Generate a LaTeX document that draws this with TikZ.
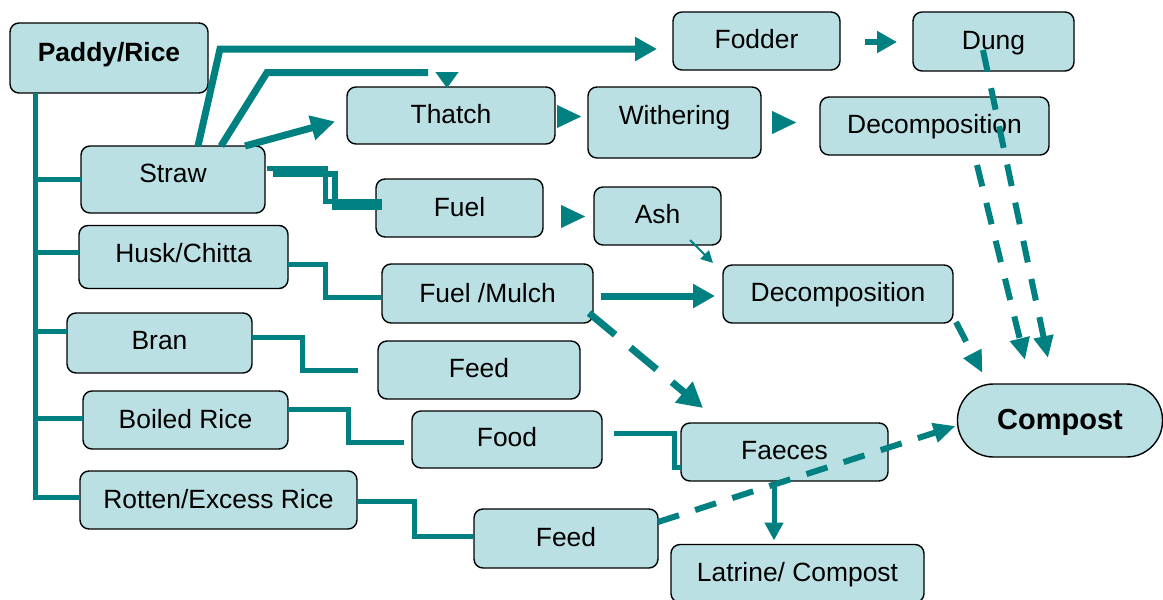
\documentclass[tikz,border=0pt]{standalone}
\usepackage{fontspec}
\setmainfont{Liberation Sans}
\usetikzlibrary{arrows.meta}
\definecolor{flowteal}{RGB}{0,128,128}
\definecolor{boxfill}{RGB}{186,224,227}

\begin{document}
\begin{tikzpicture}[x=1pt,y=-1pt,
  box/.style={draw=black, line width=1.4pt, fill=boxfill, rounded corners=9pt,
    inner sep=0pt, outer sep=0pt, text height=19pt, text depth=0pt,
    font=\fontsize{26.4}{30}\selectfont},
  boldbox/.style={box, font=\fontsize{26.4}{30}\selectfont\bfseries},
  link/.style={draw=flowteal, line width=5pt},
  heavy/.style={draw=flowteal, line width=7pt},
  dashlink/.style={draw=flowteal, line width=6pt, dash pattern=on 22pt off 17pt,
    -{Triangle[length=22pt,width=19pt]}},
  headonly/.style={draw=flowteal, line width=0.1pt, -{Triangle[length=#1,width=23pt]}}
]
\useasboundingbox (0,0) rectangle (1163,600);

% ---- boxes ----
\node[boldbox, minimum width=198pt, minimum height=70pt, text depth=13pt] (paddy) at (109,58) {Paddy/Rice};
\node[box, minimum width=184pt, minimum height=67pt, text depth=14pt] (straw) at (173,179.5) {Straw};
\node[box, minimum width=209pt, minimum height=63pt, text depth=9pt] (husk) at (183.5,257) {Husk/Chitta};
\node[box, minimum width=185pt, minimum height=60pt, text depth=6pt] (bran) at (159.5,343) {Bran};
\node[box, minimum width=205pt, minimum height=58pt, text depth=3pt] (boiled) at (185.5,420) {Boiled Rice};
\node[box, minimum width=277pt, minimum height=58pt, text depth=3pt] (rotten) at (218.5,500) {Rotten/Excess Rice};

\node[box, minimum width=167pt, minimum height=58pt, text depth=5pt] (fodder) at (756.5,41) {Fodder};
\node[box, minimum width=161pt, minimum height=59pt, text depth=4pt] (dung) at (993.5,41.5) {Dung};
\node[box, minimum width=208pt, minimum height=57pt, text depth=4pt] (thatch) at (451,115.5) {Thatch};
\node[box, minimum width=173pt, minimum height=71pt, text depth=16pt] (withering) at (674.5,122.5) {Withering};
\node[box, minimum width=229pt, minimum height=58pt, text depth=4pt] (decompA) at (934.5,126) {Decomposition};
\node[box, minimum width=167pt, minimum height=58pt, text depth=3pt] (fuel) at (459.5,208) {Fuel};
\node[box, minimum width=127pt, minimum height=58pt, text depth=4pt] (ash) at (657.5,216) {Ash};
\node[box, minimum width=211pt, minimum height=59pt, text depth=2pt] (mulch) at (487.5,293.5) {Fuel /Mulch};
\node[box, minimum width=230pt, minimum height=58pt, text depth=4pt] (decompB) at (838,294) {Decomposition};
\node[box, minimum width=202pt, minimum height=58pt, text depth=4pt] (feedA) at (479,370) {Feed};
\node[box, minimum width=190pt, minimum height=57pt, text depth=5pt] (food) at (507,439.5) {Food};
\node[box, minimum width=207pt, minimum height=58pt, text depth=5pt] (faeces) at (784.5,452) {Faeces};
\node[box, minimum width=184pt, minimum height=59pt, text depth=3pt] (feedB) at (566,538.5) {Feed};
\node[box, minimum width=253pt, minimum height=58pt, text depth=4pt] (latrine) at (797.5,573.5) {Latrine/ Compost};
\node[boldbox, rounded corners=36pt, minimum width=205pt, minimum height=73pt,
      text height=21pt, text depth=3pt, font=\fontsize{29}{33}\selectfont\bfseries] (compost) at (1060,420.5) {Compost};

% ---- trunk and branches from Paddy/Rice ----
\coordinate (trunk) at ([xshift=25pt]paddy.south west);
\draw[link] (trunk) |- ([yshift=3pt]rotten.west);
\draw[link] (trunk |- straw.west) -- (straw.west);
\draw[link] ([yshift=5pt]trunk |- husk.west) -- ([yshift=5pt]husk.west);
\draw[link] ([yshift=12pt]trunk |- bran.west) -- ([yshift=12pt]bran.west);
\draw[link] ([yshift=2pt]trunk |- boiled.west) -- ([yshift=2pt]boiled.west);

% ---- elbow links ----
\draw[link] ([yshift=-7pt]husk.east) -| (325,297) -- ([yshift=-3.5pt]mulch.west);
\draw[link] ([yshift=6pt]bran.east) -| (302,370) -- ([xshift=-20pt]feedA.west);
\draw[link] ([yshift=11pt]boiled.east) -| (348,442) -- ([xshift=-8pt,yshift=-2.5pt]food.west);
\draw[link] ([yshift=-1pt]rotten.east) -| (414,536) -- ([yshift=2.5pt]feedB.west);
\draw[link] ([xshift=12pt,yshift=6.5pt]food.east) -| (674,467) -- ([yshift=-15pt]faeces.west);

% straw to fuel (double run)
\draw[link] ([xshift=2pt,yshift=11pt]straw.east) -| (325,201) -- ([xshift=6pt,yshift=7pt]fuel.west);
\draw[link, line width=6pt] ([xshift=8pt,yshift=6pt]straw.east) -| (334.5,207) -- ([xshift=6pt,yshift=1pt]fuel.west);

% straw to fodder
\draw[heavy, -{Triangle[length=22pt,width=23pt]}] ([xshift=117pt]straw.north west) -- (220,49) -- ([xshift=-16pt,yshift=-8pt]fodder.west);

% straw to thatch, over the top
\draw[heavy] ([xshift=140pt]straw.north west) -- (267,72.5) -- (428,72.5);
\coordinate (drop) at (447,72.5);
\draw[headonly=16pt] (drop) -- ([xshift=-4pt,yshift=-1pt]thatch.north);

% straw to thatch, direct
\draw[heavy, -{Triangle[length=24pt,width=24pt]}] ([xshift=164pt]straw.north west) -- ([xshift=-12pt,yshift=-6pt]thatch.west);

% arrowheads between neighbours
\draw[headonly=24pt] ([xshift=2.5pt,yshift=-1pt]thatch.east) -- ([xshift=-7pt,yshift=6pt]withering.west);
\draw[headonly=24pt] ([xshift=11.5pt]withering.east) -- ([xshift=-24pt,yshift=3.5pt]decompA.west);
\draw[headonly=24pt] ([xshift=18.5pt,yshift=-8.5pt]fuel.east) -- ([xshift=-9pt,yshift=-0.5pt]ash.west);

% fodder to dung
\draw[link, line width=6pt, -{Triangle[length=20pt,width=21pt]}] ([xshift=25pt,yshift=-1pt]fodder.east) -- ([xshift=-16pt,yshift=-0.5pt]dung.west);

% fuel/mulch to decomposition
\draw[heavy, -{Triangle[length=22pt,width=23pt]}] ([xshift=8pt,yshift=-2.5pt]mulch.east) -- ([xshift=-8pt,yshift=-2pt]decompB.west);

% ash to decomposition
\draw[flowteal, line width=2pt, -{Triangle[length=12pt,width=12pt]}] ([xshift=32.5pt,yshift=5pt]ash.south) -- ([xshift=-10pt,yshift=2pt]decompB.north west);

% fuel/mulch to faeces
\draw[flowteal, line width=7pt, dash pattern=on 34pt off 20pt, -{Triangle[length=25pt,width=26pt]}]
  ([xshift=-4pt,yshift=10pt]mulch.south east) -- ([xshift=-81.5pt,yshift=15pt]faeces.north);

% faeces to latrine
\draw[link, -{Triangle[length=18pt,width=18pt]}] ([xshift=-10.5pt,yshift=-3pt]faeces.south) -- ([xshift=-23.5pt,yshift=4pt]latrine.north);

% dashed routes into compost
\draw[dashlink] ([xshift=-10.5pt,yshift=-8.5pt]dung.center) -- ([xshift=-12pt,yshift=26pt]compost.north);
\draw[dashlink] ([xshift=42.5pt,yshift=-10pt]decompA.south) -- ([xshift=-35pt,yshift=24pt]compost.north);
\draw[dashlink] ([xshift=3pt,yshift=1pt]decompB.south east) -- ([xshift=25pt,yshift=11pt]compost.north west);
\draw[dashlink] ([yshift=16.5pt]feedB.east) -- ([xshift=-2pt,yshift=-5.5pt]compost.west);
\end{tikzpicture}
\end{document}
